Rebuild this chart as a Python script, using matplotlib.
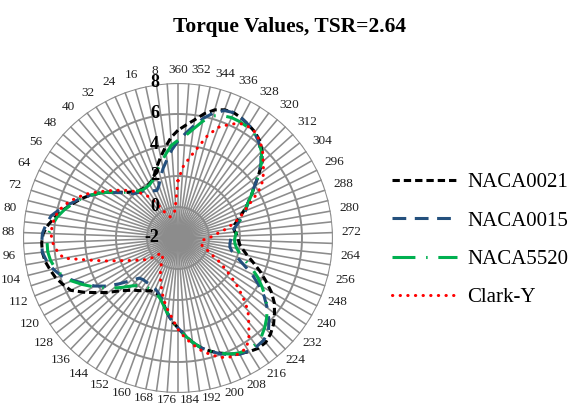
import numpy as np
import matplotlib.pyplot as plt

plt.rcParams['font.family'] = ['Liberation Serif', 'DejaVu Serif']

# azimuth positions (deg), one spoke every 4 degrees
angles = list(range(0, 360, 4))

naca0021 = [4.95, 4.5, 3.9, 3.35, 2.85, 2.4, 2.1, 1.95, 1.9, 1.9,
            1.95, 2.15, 2.4, 2.8, 3.3, 3.8, 4.3, 4.75, 5.15, 5.6,
            6.0, 6.4, 6.7, 6.8, 6.8, 6.7, 6.5, 6.3, 6.0, 5.7,
            5.0, 4.3, 3.7, 3.1, 2.7, 2.4, 2.2, 2.0, 1.85, 1.8,
            1.85, 2.0, 2.4, 2.9, 3.4, 3.8, 4.3, 4.8, 5.25, 5.6,
            5.9, 6.2, 6.45, 6.65, 6.8, 6.8, 6.6, 6.3, 5.9, 5.5,
            4.95, 4.3, 3.7, 3.1, 2.6, 2.25, 2.0, 1.9, 1.85, 1.7,
            1.65, 1.8, 2.15, 2.55, 3.0, 3.45, 3.95, 4.6, 5.3, 5.8,
            6.2, 6.45, 6.6, 6.75, 6.85, 6.8, 6.6, 6.2, 5.7, 5.3]

naca0015 = [4.25, 3.7, 3.1, 2.6, 2.1, 1.6, 1.35, 1.45, 1.6, 1.75,
            1.85, 2.0, 2.3, 2.75, 3.25, 3.8, 4.3, 4.8, 5.25, 5.8,
            6.3, 6.55, 6.75, 6.8, 6.8, 6.6, 6.3, 5.9, 5.3, 4.7,
            4.2, 3.55, 2.8, 2.1, 1.6, 1.5, 1.5, 1.5, 1.55, 1.6,
            1.75, 2.0, 2.4, 2.9, 3.4, 3.8, 4.3, 4.8, 5.25, 5.6,
            5.95, 6.25, 6.5, 6.6, 6.65, 6.6, 6.4, 5.9, 5.3, 4.7,
            4.0, 3.3, 2.55, 2.0, 1.6, 1.4, 1.37, 1.4, 1.45, 1.55,
            1.7, 2.0, 2.35, 2.7, 3.0, 3.4, 3.95, 4.6, 5.2, 5.7,
            6.1, 6.4, 6.6, 6.75, 6.85, 6.75, 6.4, 5.9, 5.3, 4.75]

naca5520 = [4.3, 4.0, 3.5, 3.05, 2.65, 2.3, 2.05, 1.9, 1.85, 1.85,
            1.95, 2.15, 2.4, 2.8, 3.3, 3.8, 4.3, 4.75, 5.15, 5.55,
            5.9, 6.15, 6.35, 6.45, 6.45, 6.35, 6.15, 5.85, 5.4, 4.85,
            4.3, 3.75, 3.25, 2.75, 2.3, 2.0, 1.85, 1.75, 1.75, 1.8,
            1.9, 2.1, 2.45, 2.9, 3.4, 3.8, 4.3, 4.8, 5.25, 5.6,
            5.9, 6.2, 6.4, 6.5, 6.5, 6.35, 6.05, 5.7, 5.3, 4.8,
            4.25, 3.7, 3.1, 2.5, 2.1, 1.85, 1.7, 1.65, 1.7, 1.8,
            1.9, 2.05, 2.3, 2.6, 3.0, 3.45, 3.95, 4.6, 5.25, 5.75,
            6.1, 6.35, 6.45, 6.5, 6.5, 6.4, 6.2, 5.7, 5.1, 4.6]

clark_y = [1.7, 0.2, -0.35, -0.45, -0.5, -0.55, -0.35, -0.05, 0.7, 1.35,
           1.8, 2.2, 2.6, 3.0, 3.45, 3.95, 4.5, 5.0, 5.45, 5.8,
           6.05, 6.15, 6.2, 6.1, 5.85, 5.5, 3.9, 2.8, 1.9, 1.3,
           0.85, 0.5, 0.05, -0.55, -0.55, -0.45, -0.3, 0.05, 0.4, 0.8,
           1.2, 1.7, 2.2, 2.7, 3.2, 3.9, 4.45, 4.95, 5.45, 5.85,
           6.2, 6.4, 6.45, 6.35, 5.8, 5.1, 4.5, 3.6, 2.7, 1.8,
           1.1, 0.4, 0.0, -0.35, -0.45, -0.5, -0.45, -0.2, 0.15, 0.5,
           1.05, 1.6, 2.2, 2.6, 3.2, 4.0, 4.6, 5.0, 5.4, 5.85,
           6.2, 6.45, 6.5, 6.4, 6.0, 5.6, 4.85, 3.9, 3.2, 2.6]

r_ticks = [-2, 0, 2, 4, 6, 8]
series_names = ['NACA0021', 'NACA0015', 'NACA5520', 'Clark-Y']

fig = plt.figure(figsize=(5.79, 4.07), dpi=100)
ax = fig.add_axes([0.0397, 0.0344, 0.5354, 0.7617], projection='polar')
ax.set_theta_zero_location('N')
ax.set_theta_direction(1)
ax.set_ylim(r_ticks[0], r_ticks[-1])
ax.grid(False)
ax.set_xticks([])
ax.set_yticks([])
ax.spines['polar'].set_visible(False)

theta = np.deg2rad(angles)
grid_c = '#8c8c8c'

# spokes and rings
for t in theta:
    ax.plot([t, t], [r_ticks[0], r_ticks[-1]], color=grid_c, lw=1.15, zorder=1)
ring = np.linspace(0, 2 * np.pi, 361)
for v in r_ticks[1:]:
    ax.plot(ring, np.full_like(ring, v), color=grid_c,
            lw=1.6 if v == r_ticks[-1] else 1.4, zorder=1)

# series
styles = [
    dict(color='black', ls=(0, (2.4, 1.3))),
    dict(color='#24507d', ls=(0, (4.5, 2.8))),
    dict(color='#00b050', ls=(0, (7.5, 3.5, 0.5, 3.5))),
    dict(color='#ff0000', ls=(0, (0.1, 2.4)), dash_capstyle='round'),
]
handles = []
for vals, name, st in zip([naca0021, naca0015, naca5520, clark_y], series_names, styles):
    t_closed = np.append(theta, theta[0])
    v_closed = np.append(vals, vals[0])
    ln, = ax.plot(t_closed, v_closed, lw=2.2, label=name, zorder=3, **st)
    handles.append(ln)

# category labels every 8 degrees
px2pt = 0.72
for a in angles:
    if a % 8:
        continue
    lab = '360' if a == 0 else str(a)
    ang = np.deg2rad(a)
    sx, sy = -np.sin(ang), np.cos(ang)
    hw = 3.3 * len(lab)
    d = 8.5 + hw * abs(sx) + (4.5 if sy > 0 else -1.5) * abs(sy)
    ax.annotate(lab, xy=(ang, r_ticks[-1]), xytext=(d * sx * px2pt, d * sy * px2pt),
                textcoords='offset points', ha='center', va='center',
                fontsize=9.5, color='#202020')

# value axis labels
for v in r_ticks:
    ax.annotate(str(v), xy=(0, v), xytext=(-13.5, 0), textcoords='offset points',
                ha='right', va='center', fontsize=13, fontweight='bold', zorder=5)

fig.text(0.5, 0.934, 'Torque Values, TSR=2.64', ha='center', va='center',
         fontsize=15.5, fontweight='bold')

fig.legend(handles, series_names, loc='center left', bbox_to_anchor=(0.677, 0.41),
           frameon=False, fontsize=15, handlelength=3.1, handletextpad=0.5,
           labelspacing=0.9, borderpad=0, borderaxespad=0)

fig.savefig('out.png', dpi=100)
